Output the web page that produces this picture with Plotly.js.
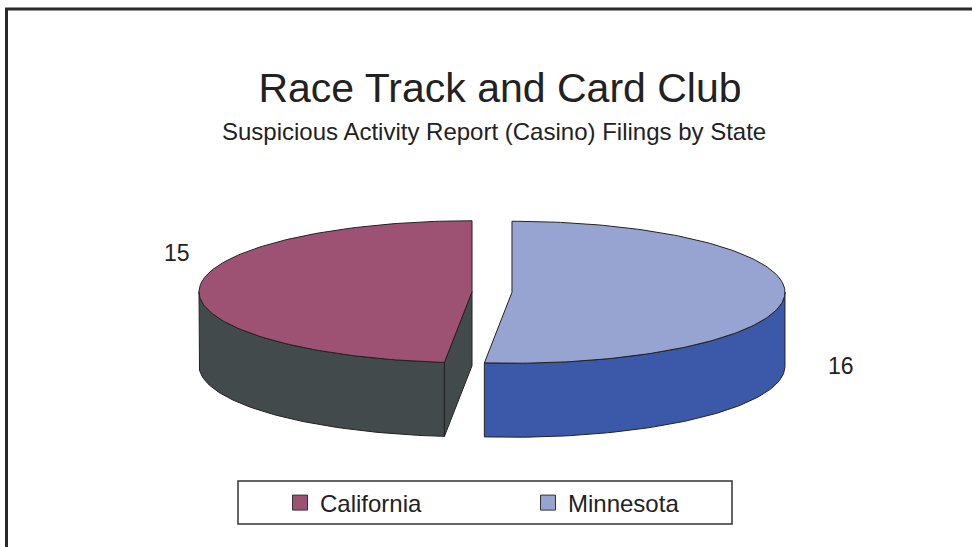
<!DOCTYPE html>
<html>
<head>
<meta charset="utf-8">
<script src="https://cdn.plot.ly/plotly-3.0.1.min.js"></script>
<style>html,body{margin:0;padding:0;background:#fff;}#chart{width:972px;height:547px;}</style>
</head>
<body>
<div id="chart"></div>
<script>
// ---- data ----
const states = ['California', 'Minnesota'];
const filings = [15, 16];
const topColors = ['#9e5273', '#97a3d1'];
const sideColors = ['#434a4c', '#3b59a8'];
const titleText = 'Race Track and Card Club';
const subtitleText = 'Suspicious Activity Report (Casino) Filings by State';

// ---- 3D pie geometry (layout constants) ----
const W = 972, H = 547;
const CX = 492, CY = 292, RX = 273, RY = 71, DEPTH = 74, EXPLODE = 20;
const OUT = '#222';
const FONT = 'Liberation Sans, Arial, sans-serif';

const total = filings.reduce((a, b) => a + b, 0);
function pt(phi, cx, cy, dz) { return [cx + RX * Math.sin(phi), cy - RY * Math.cos(phi) + (dz || 0)]; }
function arc(a, b, cx, cy, dz) {
  const n = Math.max(8, Math.ceil(Math.abs(b - a) / 0.02));
  const xs = [], ys = [];
  for (let i = 0; i <= n; i++) { const p = pt(a + (b - a) * i / n, cx, cy, dz); xs.push(p[0]); ys.push(p[1]); }
  return [xs, ys];
}

const sideTraces = [], topTraces = [];
let cum = 0;
filings.forEach((v, i) => {
  // slices run counter-clockwise from 12 o'clock; phi measured clockwise
  const phiB = -2 * Math.PI * cum / total;
  cum += v;
  const phiA = -2 * Math.PI * cum / total;
  const mid = (phiA + phiB) / 2;
  const cx = CX + EXPLODE * Math.sin(mid);
  const cy = CY - EXPLODE * (RY / RX) * Math.cos(mid);
  const common = { type: 'scatter', mode: 'lines', fill: 'toself', hoverinfo: 'skip', showlegend: false,
                   line: { color: OUT, width: 1 } };
  // outer wall: visible front part
  const f0 = Math.max(phiA, -1.5 * Math.PI), f1 = Math.min(phiB, -0.5 * Math.PI);
  if (f1 > f0) {
    const t = arc(f0, f1, cx, cy, 0), b = arc(f1, f0, cx, cy, DEPTH);
    sideTraces.push(Object.assign({}, common, { x: t[0].concat(b[0], [t[0][0]]), y: t[1].concat(b[1], [t[1][0]]), fillcolor: sideColors[i] }));
  }
  // cut faces (only those facing the viewer)
  [[phiA, -Math.sin(phiA)], [phiB, Math.sin(phiB)]].forEach(([phi, vis]) => {
    if (vis > 1e-6) {
      const p = pt(phi, cx, cy, 0);
      sideTraces.push(Object.assign({}, common, {
        x: [cx, p[0], p[0], cx, cx], y: [cy, p[1], p[1] + DEPTH, cy + DEPTH, cy], fillcolor: sideColors[i] }));
    }
  });
  // top face
  const a = arc(phiA, phiB, cx, cy, 0);
  topTraces.push(Object.assign({}, common, { x: [cx].concat(a[0], [cx]), y: [cy].concat(a[1], [cy]), fillcolor: topColors[i], name: states[i] }));
});

// legend entries
const legendTraces = states.map((s, i) => ({
  type: 'scatter', mode: 'markers', x: [null], y: [null], name: s, hoverinfo: 'skip',
  marker: { symbol: 'square', size: 15, color: topColors[i], line: { color: '#333', width: 1 } }
}));

const valueLabelPos = [[177, 253], [841, 366]];
const annotations = filings.map((v, i) => ({
  x: valueLabelPos[i][0], y: valueLabelPos[i][1], xref: 'x', yref: 'y', text: String(v), showarrow: false,
  font: { family: FONT, size: 23, color: '#222' }
}));
annotations.push({
  x: 494 / W, y: 1 - 132 / H, xref: 'paper', yref: 'paper', text: subtitleText, showarrow: false,
  xanchor: 'center', yanchor: 'middle', font: { family: FONT, size: 24, color: '#222' }
});

const layout = {
  width: W, height: H, margin: { l: 0, r: 0, t: 0, b: 0 },
  paper_bgcolor: '#fff', plot_bgcolor: '#fff',
  title: { text: titleText, x: 500 / W, xanchor: 'center', y: 1 - 88 / H, yanchor: 'middle', yref: 'paper',
           font: { family: FONT, size: 41, color: '#222' } },
  xaxis: { range: [0, W], visible: false, fixedrange: true },
  yaxis: { range: [H, 0], visible: false, fixedrange: true },
  showlegend: true,
  legend: { orientation: 'h', x: 280 / W, xanchor: 'left', y: 1 - 503 / H, yanchor: 'middle',
            bgcolor: 'rgba(0,0,0,0)', borderwidth: 0, entrywidth: 203,
            font: { family: FONT, size: 24, color: '#222' } },
  shapes: [
    { type: 'rect', xref: 'paper', yref: 'paper', x0: 238 / W, x1: 732 / W, y0: 1 - 481 / H, y1: 1 - 524 / H,
      line: { color: '#333', width: 1.5 }, fillcolor: 'rgba(0,0,0,0)', layer: 'below' },
    { type: 'rect', xref: 'paper', yref: 'paper', x0: 6.5 / W, x1: 1.05, y0: 1 - 9 / H, y1: -0.05,
      line: { color: '#2a2a2a', width: 3 }, fillcolor: 'rgba(0,0,0,0)' }
  ],
  annotations: annotations
};

Plotly.newPlot('chart', sideTraces.concat(topTraces, legendTraces), layout, { staticPlot: true, displayModeBar: false });
</script>
</body>
</html>
